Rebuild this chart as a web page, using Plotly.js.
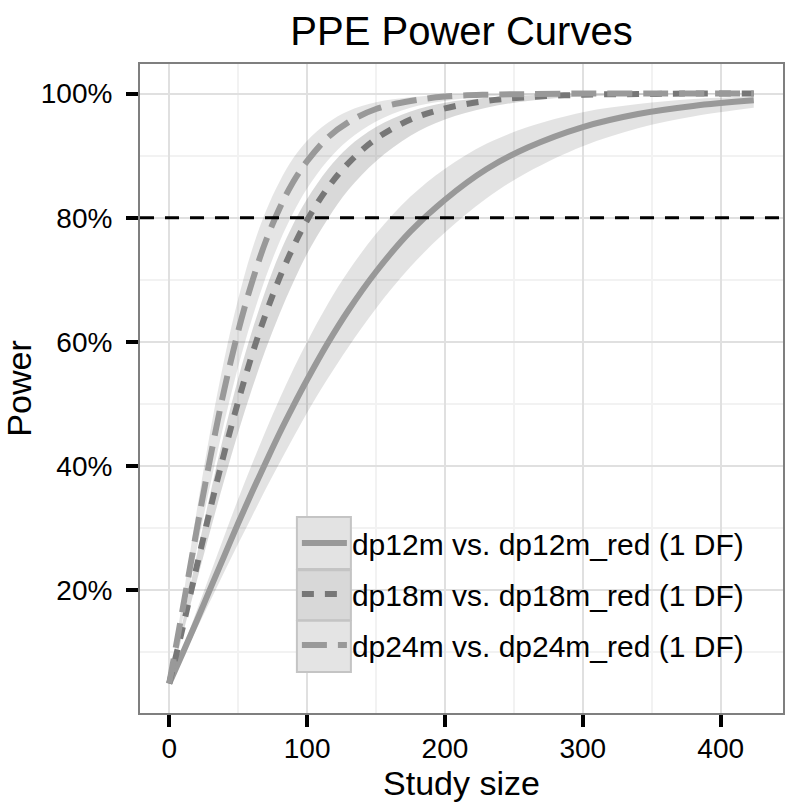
<!DOCTYPE html>
<html>
<head>
<meta charset="utf-8">
<script src="https://cdn.plot.ly/plotly-3.0.1.min.js"></script>
<style>
	body { margin: 0; background: #fff; }
	#chart { width: 790px; height: 804px; }
</style>
</head>
<body>
<div id="chart"></div>
<script>
const studySize = [0, 10, 20, 30, 40, 50, 60, 70, 80, 90, 100, 115, 130, 150, 175, 200, 230, 260, 300, 340, 380, 424];

const power12 = [5.0, 10.0, 15.1, 20.4, 25.6, 30.8, 35.8, 40.6, 45.3, 49.7, 53.9, 59.8, 65.1, 71.3, 77.8, 82.9, 87.8, 91.3, 94.6, 96.7, 98.0, 98.9];
const power12Low = [5.0, 9.3, 13.8, 18.4, 23.0, 27.5, 31.9, 36.3, 40.5, 44.6, 48.6, 54.1, 59.2, 65.4, 72.1, 77.6, 83.1, 87.3, 91.5, 94.4, 96.3, 97.7];
const power12High = [5.0, 10.8, 16.8, 22.8, 28.8, 34.7, 40.3, 45.7, 50.8, 55.6, 60.0, 66.1, 71.4, 77.4, 83.4, 87.9, 91.9, 94.6, 97.0, 98.3, 99.1, 99.5];

const power18 = [5.0, 14.2, 23.9, 33.3, 42.2, 50.4, 57.9, 64.5, 70.3, 75.3, 79.6, 84.8, 88.8, 92.7, 95.8, 97.6, 98.8, 99.4, 99.8, 99.9, 100.0, 100.0];
const power18Low = [5.0, 13.1, 21.5, 29.8, 37.8, 45.4, 52.4, 58.8, 64.5, 69.6, 74.2, 79.8, 84.5, 89.1, 93.2, 95.8, 97.7, 98.8, 99.5, 99.8, 99.9, 100.0];
const power18High = [5.0, 15.2, 25.7, 35.8, 45.4, 54.1, 61.7, 68.4, 74.2, 79.0, 83.0, 87.8, 91.4, 94.6, 97.1, 98.5, 99.3, 99.7, 99.9, 100.0, 100.0, 100.0];

const power24 = [5.0, 17.3, 29.8, 41.6, 52.4, 61.7, 69.6, 76.2, 81.5, 85.8, 89.1, 92.9, 95.4, 97.5, 98.8, 99.5, 99.8, 99.9, 100.0, 100.0, 100.0, 100.0];
const power24Low = [5.0, 15.6, 26.6, 37.2, 47.1, 56.0, 63.7, 70.4, 76.1, 80.8, 84.7, 89.2, 92.5, 95.5, 97.7, 98.8, 99.5, 99.8, 99.9, 100.0, 100.0, 100.0];
const power24High = [5.0, 18.9, 32.9, 45.9, 57.3, 66.9, 74.8, 81.0, 85.8, 89.6, 92.4, 95.3, 97.2, 98.6, 99.4, 99.8, 99.9, 100.0, 100.0, 100.0, 100.0, 100.0];

const seriesNames = ["dp12m vs. dp12m_red (1 DF)", "dp18m vs. dp18m_red (1 DF)", "dp24m vs. dp24m_red (1 DF)"];
const xTicks = [0, 100, 200, 300, 400];
const yTicks = [20, 40, 60, 80, 100];
const yTickLabels = ["20%", "40%", "60%", "80%", "100%"];
const targetPower = 80;

const fontFamily = "Liberation Sans, Arial, Helvetica, sans-serif";

const series = [
	{ name: seriesNames[0], mid: power12, low: power12Low, high: power12High,
		color: "#999999", dash: "solid", fill: "rgba(0,0,0,0.11)", key: "#e3e3e3" },
	{ name: seriesNames[1], mid: power18, low: power18Low, high: power18High,
		color: "#777777", dash: "12px,11px", fill: "rgba(0,0,0,0.15)", key: "#d8d8d8" },
	{ name: seriesNames[2], mid: power24, low: power24Low, high: power24High,
		color: "#999999", dash: "25px,11px", fill: "rgba(0,0,0,0.10)", key: "#e4e4e4" }
];

const traces = [];

// confidence ribbons first
series.forEach(s => {
	traces.push({
		x: studySize, y: s.low, type: "scatter", mode: "lines",
		line: { width: 0, shape: "spline" },
		showlegend: false, hoverinfo: "skip"
	});
	traces.push({
		x: studySize, y: s.high, type: "scatter", mode: "lines",
		line: { width: 0, shape: "spline" },
		fill: "tonexty", fillcolor: s.fill,
		showlegend: false, hoverinfo: "skip"
	});
});

// power curves on top
series.forEach((s, i) => {
	traces.push({
		x: studySize, y: s.mid, type: "scatter", mode: "lines",
		name: s.name, legendgroup: "g" + i,
		line: { color: s.color, width: 6, dash: s.dash, shape: "spline" }
	});
});

// grey key boxes behind the legend entries
const keyRows = [[0.302, 0.222], [0.220, 0.143], [0.142, 0.063]];
const keyShapes = keyRows.map((r, i) => ({
	type: "rect", xref: "paper", yref: "paper",
	x0: 0.244, x1: 0.328, y0: r[1], y1: r[0],
	fillcolor: series[i].key, line: { color: "#c4c4c4", width: 2 },
	layer: "above"
}));

const layout = {
	width: 790,
	height: 804,
	margin: { l: 140, r: 7, t: 64, b: 91 },
	paper_bgcolor: "#fff",
	plot_bgcolor: "#fff",
	font: { family: fontFamily, color: "#000" },
	title: {
		text: "PPE Power Curves",
		font: { size: 40, color: "#000" },
		x: 0.5, xref: "paper", xanchor: "center",
		y: 0.962, yanchor: "middle"
	},
	xaxis: {
		title: { text: "Study size", font: { size: 34 }, standoff: 0 },
		range: [-21.2, 445.2],
		tickmode: "array",
		tickvals: xTicks,
		tickfont: { size: 28 },
		ticks: "outside", ticklen: 12, tickwidth: 3.5, tickcolor: "#000",
		ticklabelstandoff: -3,
		showline: true, mirror: true, linecolor: "#7f7f7f", linewidth: 2,
		showgrid: true, gridcolor: "#e0e0e0", gridwidth: 2,
		minor: { tickvals: [50, 150, 250, 350], showgrid: true, gridcolor: "#f2f2f2", gridwidth: 1.5, ticks: "" },
		zeroline: false
	},
	yaxis: {
		title: { text: "Power", font: { size: 34 }, standoff: 26 },
		range: [0.25, 104.75],
		tickmode: "array",
		tickvals: yTicks,
		ticktext: yTickLabels,
		tickfont: { size: 28 },
		ticks: "outside", ticklen: 12, tickwidth: 3.5, tickcolor: "#000",
		ticklabelstandoff: 8,
		showline: true, mirror: true, linecolor: "#7f7f7f", linewidth: 2,
		showgrid: true, gridcolor: "#e0e0e0", gridwidth: 2,
		minor: { tickvals: [10, 30, 50, 70, 90], showgrid: true, gridcolor: "#f2f2f2", gridwidth: 1.5, ticks: "" },
		zeroline: false
	},
	shapes: [
		{
			type: "line", xref: "paper", yref: "y",
			x0: 0, x1: 1, y0: targetPower, y1: targetPower,
			line: { color: "#000", width: 3, dash: "14px,11px" },
			layer: "above"
		},
		...keyShapes
	],
	showlegend: true,
	legend: {
		x: 0.244, y: 0.302, xanchor: "left", yanchor: "top",
		bgcolor: "rgba(0,0,0,0)", borderwidth: 0,
		font: { size: 30, color: "#000" },
		itemwidth: 45,
		traceorder: "grouped",
		tracegroupgap: 9
	}
};

Plotly.newPlot("chart", traces, layout, { responsive: false, displayModeBar: false });
</script>
</body>
</html>
